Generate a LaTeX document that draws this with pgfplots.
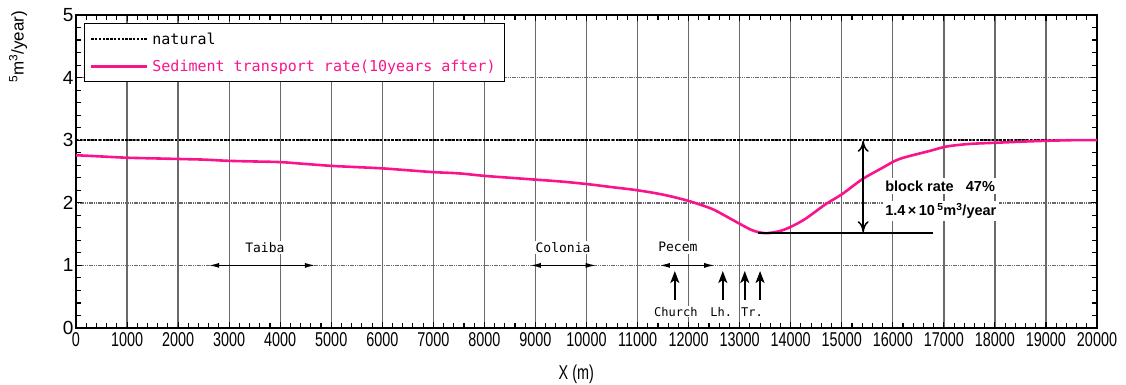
\documentclass[border=0pt]{standalone}
\usepackage{pgfplots}
\pgfplotsset{compat=1.18}
\usepackage{fontspec}
\setmainfont{Liberation Sans}
\newfontfamily\narrow[FakeStretch=0.72]{Liberation Sans}
\newfontfamily\mono{DejaVu Sans Mono}
\usetikzlibrary{arrows.meta}
\definecolor{sedpink}{RGB}{250,20,140}
\definecolor{gridgray}{RGB}{105,105,105}
\begin{document}
\begin{tikzpicture}
\begin{axis}[
  name=ax,
  scale only axis,
  width=1021pt, height=313pt,
  xmin=0, xmax=20000, ymin=0, ymax=5,
  xtick distance=1000,
  ytick={0,1,2,3,4,5},
  minor x tick num=4,
  minor y tick num=4,
  scaled x ticks=false,
  tick pos=both,
  tick align=inside,
  major tick length=6pt,
  minor tick length=5pt,
  tick style={black, line width=1.1pt},
  axis line style={black, line width=2pt},
  grid=major,
  major x grid style={gridgray, line width=1.3pt},
  major y grid style={gridgray, line width=1.5pt, dash pattern=on 1.2pt off 0.6pt},
  /pgf/number format/assume math mode=true,
  /pgf/number format/set thousands separator={},
  xticklabel style={font=\narrow\fontsize{20}{20}\selectfont, yshift=-1pt},
  yticklabel style={font=\fontsize{19}{19}\selectfont, xshift=1pt},
  xlabel={X (m)},
  xlabel style={font=\narrow\fontsize{20}{20}\selectfont, at={(axis description cs:0.49,0)}, anchor=center, yshift=-46pt},
  legend style={at={(0.008,0.974)}, anchor=north west, draw=black, line width=1.3pt,
    font=\mono\fontsize{15}{17}\selectfont, row sep=10pt, inner xsep=5pt, inner ysep=7pt,
    nodes={inner xsep=4pt}},
  legend cell align=left,
  legend image code/.code={\draw[#1] (0pt,0pt) -- (56pt,0pt);},
]
\addplot[black, line width=2.2pt, dash pattern=on 2.4pt off 1.4pt] coordinates {(0,3.0) (20000,3.0)};
\addlegendentry{natural}
\addplot[sedpink, line width=2.6pt, smooth] coordinates {
(0,2.76) (500,2.74) (1000,2.72) (1500,2.71) (2000,2.70) (2500,2.69) (3000,2.67)
(3500,2.66) (4000,2.65) (4500,2.62) (5000,2.59) (5500,2.57) (6000,2.55)
(6500,2.52) (7000,2.49) (7500,2.47) (8000,2.43) (8500,2.40) (9000,2.37)
(9500,2.34) (10000,2.30) (10500,2.25) (11000,2.20) (11500,2.13) (12000,2.03)
(12450,1.905) (12700,1.80) (13000,1.665) (13250,1.56) (13500,1.515)
(13770,1.545) (14000,1.615) (14290,1.745) (14680,1.975) (15000,2.135)
(15400,2.375) (15800,2.56) (16130,2.70) (16730,2.83) (17060,2.90)
(17500,2.94) (18040,2.96) (18630,2.98) (19000,2.99) (19500,3.0) (20000,3.0)};
\addlegendentry{\textcolor{sedpink}{Sediment transport rate(10years after)}}

% block rate annotation
\draw[black, line width=1.5pt] (axis cs:13360,1.515) -- (axis cs:16790,1.515);
\draw[black, line width=1.5pt, {To[length=11pt,width=11pt]}-{To[length=11pt,width=11pt]}] (axis cs:15420,2.99) -- (axis cs:15420,1.53);
\node[anchor=west, fill=white, inner sep=2.5pt, font=\bfseries\fontsize{14.5}{15}\selectfont] at (axis cs:15800,2.27) {block rate\ \ \ 47\%};
\node[anchor=west, fill=white, inner sep=2.5pt, font=\bfseries\fontsize{14.5}{15}\selectfont] at (axis cs:15800,1.87) {1.4\,×\,10\,\textsuperscript{5}m\textsuperscript{3}/year};

% place annotations
\draw[black, line width=1.6pt, {Latex[length=11pt,width=5pt]}-{Latex[length=11pt,width=5pt]}] (axis cs:2590,1) -- (axis cs:4700,1);
\draw[black, line width=1.6pt, {Latex[length=11pt,width=5pt]}-{Latex[length=11pt,width=5pt]}] (axis cs:8890,1) -- (axis cs:10200,1);
\draw[black, line width=1.6pt, {Latex[length=11pt,width=5pt]}-{Latex[length=11pt,width=5pt]}] (axis cs:11420,1) -- (axis cs:12520,1);
\node[fill=white, inner sep=1.5pt, font=\mono\fontsize{13}{14}\selectfont] at (axis cs:3700,1.29) {Taiba};
\node[fill=white, inner sep=1.5pt, font=\mono\fontsize{13}{14}\selectfont] at (axis cs:9540,1.29) {Colonia};
\node[fill=white, inner sep=1.5pt, font=\mono\fontsize{13}{14}\selectfont] at (axis cs:11790,1.29) {Pecem};

\draw[black, line width=1.6pt, -{Stealth[length=12pt,width=9pt,inset=3pt]}] (axis cs:11730,0.45) -- (axis cs:11730,0.91);
\draw[black, line width=1.6pt, -{Stealth[length=12pt,width=9pt,inset=3pt]}] (axis cs:12670,0.45) -- (axis cs:12670,0.91);
\draw[black, line width=1.6pt, -{Stealth[length=12pt,width=9pt,inset=3pt]}] (axis cs:13100,0.45) -- (axis cs:13100,0.91);
\draw[black, line width=1.6pt, -{Stealth[length=12pt,width=9pt,inset=3pt]}] (axis cs:13400,0.45) -- (axis cs:13400,0.91);
\node[fill=white, inner sep=1pt, font=\mono\fontsize{12}{13}\selectfont] at (axis cs:11750,0.26) {Church};
\node[fill=white, inner sep=1pt, font=\mono\fontsize{12}{13}\selectfont] at (axis cs:12640,0.26) {Lh.};
\node[fill=white, inner sep=1pt, font=\mono\fontsize{12}{13}\selectfont] at (axis cs:13240,0.26) {Tr.};
\end{axis}
\node[rotate=90, font=\fontsize{17}{17}\selectfont] at ([xshift=-58pt,yshift=-32pt]ax.north west) {\textsuperscript{5}m\textsuperscript{3}/year)};
\pgfresetboundingbox
\path[use as bounding box] ([xshift=-76pt,yshift=-57pt]ax.south west) rectangle ([xshift=29pt,yshift=15pt]ax.north east);
\end{tikzpicture}
\end{document}
